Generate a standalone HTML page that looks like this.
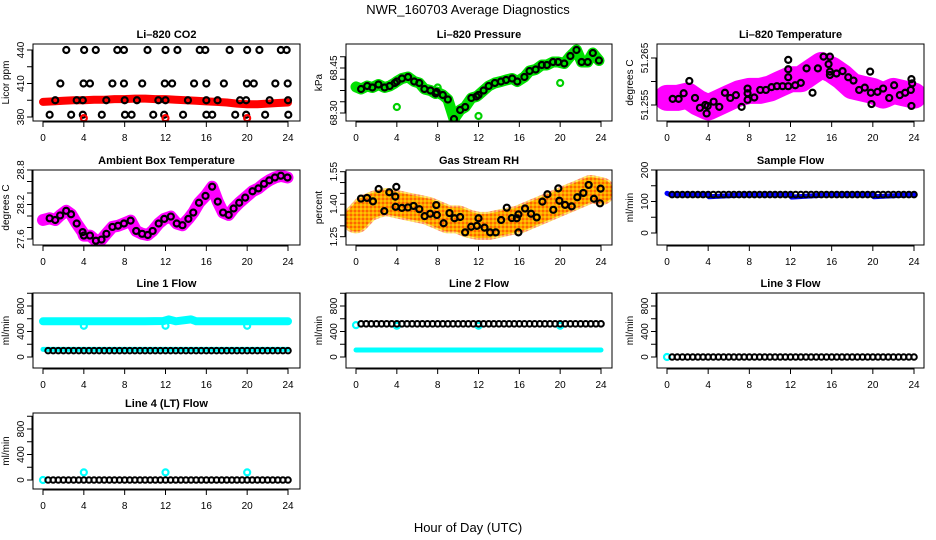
<!DOCTYPE html>
<html><head><meta charset="utf-8"><style>
body{margin:0;background:#fff;}
svg{display:block;font-family:"Liberation Sans",Arial,sans-serif;}
</style></head><body>
<svg id="chart" width="936" height="540" viewBox="0 0 936 540">
<defs id="defs">
<pattern id="rhpat" width="4" height="4" patternUnits="userSpaceOnUse"><rect width="4" height="4" fill="#ffa000"/><rect width="2" height="2" fill="#ffe000"/><rect x="2" y="2" width="2" height="2" fill="#ff4000"/></pattern>
</defs>
<rect width="936" height="540" fill="#fff"/>
<text x="468" y="14" font-size="13" text-anchor="middle">NWR_160703  Average Diagnostics</text>
<text x="468" y="532" font-size="13" text-anchor="middle">Hour of Day (UTC)</text>
</svg>
<script>
// ---- data ----
const xTicks = [0,4,8,12,16,20,24];
const xTickLabels = ['0','4','8','12','16','20','24'];

const co2BandHours = [0,1,2,3,4,5,6,7,8,9,10,11,12,13,14,15,16,17,18,19,20,21,22,23,24];
const co2BandVals = [393.5,394,394.5,395,395,395.5,395.5,396,396,396.5,396.5,396,396,395.5,395,394.5,394,393.5,393,392,391.5,391.5,392,392.5,393];
const co2BlackHours = [2.28,4.03,5.17,7.28,7.93,10.24,12.0,13.17,15.35,15.9,18.28,20.0,21.2,23.3,23.87,
 1.7,3.97,4.6,6.8,7.93,9.72,11.93,12.65,14.8,16.0,17.72,19.97,20.65,22.76,23.97,
 1.2,3.3,3.9,6.2,8.0,9.2,11.3,12.0,14.2,16.0,17.1,19.3,19.9,22.2,24,
 0.65,2.76,3.9,5.76,8.03,8.68,10.8,11.87,13.72,16.0,16.58,18.83,19.9,21.76,24.03];
const co2BlackVals = [440,440,440,440,440,440,440,440,440,440,440,440,440,440,440,
 410,410,410,410,410,410,410,410,410,410,410,410,410,410,410,
 395,395,395,395,395,395,395,395,395,395,395,395,395,395,395,
 382,382,382,382,382,382,382,382,382,382,382,382,382,382,382];
const co2RedHours = [4,12,20];
const co2RedVals = [379,379,379];

const presHours = [0,0.5,1.1,1.6,2.2,2.8,3.3,3.8,4.0,4.5,5.1,5.7,6.2,6.7,7.3,7.8,7.9,8.5,9.0,9.6,10.2,10.7,11.3,11.8,12.0,12.5,13.0,13.6,14.2,14.7,15.3,15.8,16.5,17.0,17.6,18.2,18.7,19.3,19.8,20.4,21.0,21.6,22.1,22.7,23.2,23.8];
const presVals = [68.387,68.38,68.39,68.385,68.395,68.385,68.39,68.40,68.405,68.415,68.42,68.405,68.40,68.38,68.375,68.365,68.37,68.36,68.345,68.28,68.31,68.32,68.35,68.355,68.36,68.375,68.39,68.40,68.405,68.41,68.415,68.405,68.42,68.44,68.445,68.46,68.46,68.47,68.47,68.465,68.49,68.51,68.47,68.47,68.50,68.475];
const presOutHours = [4,12,20,8];
const presOutVals = [68.32,68.29,68.40,68.385];

const tempBandHours = [0,1,2,3,4,5,6,7,8,9,10,11,12,13,14,15,16,17,18,19,20,21,22,23,24];
const tempBandVals = [51.2565,51.2565,51.257,51.2555,51.2545,51.2555,51.2565,51.2575,51.258,51.258,51.2585,51.2595,51.2605,51.2605,51.262,51.2635,51.2625,51.261,51.259,51.2585,51.258,51.257,51.258,51.2575,51.257];
const tempHours = [0.55,1.13,1.62,2.17,2.72,3.2,3.72,3.85,3.95,4.53,5.08,5.63,6.15,6.7,7.25,7.83,7.83,7.83,8.48,9.06,9.61,10.16,10.68,11.23,11.78,11.78,11.78,11.78,12.46,13.0,13.56,14.14,14.66,15.21,15.7,15.83,15.83,15.83,16.47,17.06,17.61,18.12,18.67,19.22,19.74,19.81,19.87,20.45,21.0,21.59,22.07,22.62,23.14,23.69,23.75,23.82,23.75];
const tempVals = [51.2563,51.2563,51.2575,51.2601,51.2565,51.2544,51.255,51.2532,51.2548,51.2557,51.2546,51.2576,51.2565,51.2571,51.2546,51.2585,51.2575,51.2561,51.2566,51.2582,51.2582,51.2588,51.259,51.259,51.259,51.2609,51.2626,51.2646,51.2592,51.2597,51.2628,51.2576,51.2628,51.2653,51.2637,51.2653,51.2614,51.2621,51.2617,51.2622,51.2609,51.2602,51.2582,51.2587,51.2621,51.2576,51.2552,51.2578,51.2585,51.2565,51.2592,51.2571,51.2576,51.2582,51.2605,51.2596,51.2548];

const ambHours = [0,0.65,1.2,1.68,2.27,2.75,3.3,3.88,4.0,4.6,5.18,5.73,6.21,6.8,7.35,7.93,8.58,9.13,9.71,10.26,10.74,11.33,11.88,12.52,13.1,13.66,14.24,14.72,15.28,15.92,16.57,17.12,17.64,18.19,18.67,19.22,19.81,20.52,21.1,21.65,22.17,22.72,23.3,23.95];
const ambVals = [27.93,27.96,27.93,28.01,28.09,28.03,27.87,27.72,27.66,27.66,27.57,27.59,27.69,27.81,27.83,27.87,27.92,27.74,27.69,27.67,27.74,27.87,27.95,27.99,27.87,27.84,27.95,28.06,28.23,28.35,28.51,28.25,28.06,28.02,28.13,28.23,28.32,28.43,28.48,28.56,28.62,28.67,28.70,28.67];

const rhBandHours = [0,1,2,3,4,5,6,7,8,9,10,11,12,13,14,15,16,17,18,19,20,21,22,23,24];
const rhBandVals = [1.33,1.38,1.40,1.41,1.40,1.39,1.38,1.37,1.35,1.33,1.33,1.31,1.30,1.30,1.31,1.32,1.33,1.35,1.37,1.39,1.41,1.43,1.45,1.47,1.46];
const rhHours = [0.49,1.08,1.66,2.22,2.77,3.26,3.85,3.95,3.88,4.5,5.09,5.64,6.2,6.72,7.27,7.86,7.92,8.58,9.16,9.65,10.2,10.69,11.28,11.84,12.0,12.59,13.14,13.69,14.22,14.77,15.26,15.75,15.91,15.91,16.56,17.15,17.7,18.26,18.75,19.33,19.82,19.92,20.48,21.13,21.68,22.27,22.79,23.31,23.96,23.9];
const rhVals = [1.426,1.429,1.413,1.47,1.368,1.455,1.435,1.48,1.388,1.383,1.385,1.392,1.377,1.345,1.356,1.396,1.35,1.312,1.359,1.335,1.341,1.27,1.296,1.30,1.335,1.292,1.27,1.27,1.327,1.384,1.336,1.335,1.353,1.27,1.38,1.356,1.339,1.412,1.446,1.374,1.473,1.416,1.397,1.39,1.432,1.452,1.489,1.425,1.472,1.404];

const flowHours = [0.5,1,1.5,2,2.5,3,3.5,4,4.5,5,5.5,6,6.5,7,7.5,8,8.5,9,9.5,10,10.5,11,11.5,12,12.5,13,13.5,14,14.5,15,15.5,16,16.5,17,17.5,18,18.5,19,19.5,20,20.5,21,21.5,22,22.5,23,23.5,24];
const sampleBlack = [122,122,122,122,122,122,122,122,122,122,122,122,122,122,122,122,122,122,122,122,122,122,122,122,122,122,122,122,122,122,122,122,122,122,122,122,122,122,122,122,122,122,122,122,122,122,122,122];
const sampleBlueHours = [0,0.3,4,4.1,8,12,12.1,16,20,20.1,24];
const sampleBlueVals = [126,122,122,115,122,122,114,122,122,115,122];
const line1Black = [100,100,100,100,100,100,100,100,100,100,100,100,100,100,100,100,100,100,100,100,100,100,100,100,100,100,100,100,100,100,100,100,100,100,100,100,100,100,100,100,100,100,100,100,100,100,100,100];
const line1CyanHours = [0,2,4,6,8,10,11.8,12.3,13,14.5,15,16,18,20,22,24];
const line1CyanVals = [560,560,560,560,560,560,565,590,560,590,560,560,560,560,560,560];
const line1CyanLowHours = [0,24];
const line1CyanLowVals = [120,120];
const line1DipHours = [4,12,20];
const line1DipVals = [490,490,490];
const line2Black = [520,520,520,520,520,520,520,520,520,520,520,520,520,520,520,520,520,520,520,520,520,520,520,520,520,520,520,520,520,520,520,520,520,520,520,520,520,520,520,520,520,520,520,520,520,520,520,520];
const line2CyanHours = [0,24];
const line2CyanVals = [110,110];
const line2CyanPtHours = [0,4,12,20];
const line2CyanPtVals = [500,490,490,490];
const line3Black = [0,0,0,0,0,0,0,0,0,0,0,0,0,0,0,0,0,0,0,0,0,0,0,0,0,0,0,0,0,0,0,0,0,0,0,0,0,0,0,0,0,0,0,0,0,0,0,0];
const line3CyanHours = [0];
const line3CyanVals = [0];
const line4Black = [0,0,0,0,0,0,0,0,0,0,0,0,0,0,0,0,0,0,0,0,0,0,0,0,0,0,0,0,0,0,0,0,0,0,0,0,0,0,0,0,0,0,0,0,0,0,0,0];
const line4CyanHours = [0,4,12,20];
const line4CyanVals = [0,120,120,120];

// ---- layout ----
const NS = 'http://www.w3.org/2000/svg';
const svg = document.getElementById('chart');
const defs = document.getElementById('defs');
const boxL=[33,346,657], boxR=[300,612,924], xa=[43,356,667], xb=[288,601,914];
const boxT=[44,170,293,413], boxB=[121,245,368,489];

function mk(tag, attrs, parent){ const e=document.createElementNS(NS,tag); for(const k in attrs) e.setAttribute(k,attrs[k]); parent.appendChild(e); return e; }

let clipN = 0;
function panel(p){
  const g = mk('g',{},svg);
  
  
  const c=p.col, r=p.row;
  const X = h => xa[c] + h*(xb[c]-xa[c])/24;
  const Y = v => p.yp0 + (v-p.yv0)*(p.yp1-p.yp0)/(p.yv1-p.yv0);
  const t = mk('text',{x:(boxL[c]+boxR[c])/2, y:boxT[r]-6, 'font-size':11, 'font-weight':'bold','text-anchor':'middle'},g);
  t.textContent = p.title;
  
  
  const cid = 'clip' + (clipN++);
  const cp = mk('clipPath',{id:cid},defs);
  mk('rect',{x:boxL[c],y:boxT[r],width:boxR[c]-boxL[c],height:boxB[r]-boxT[r]},cp);
  const dg = mk('g',{'clip-path':`url(#${cid})`},g);
  
  
  p.draw(dg, X, Y);
  const b = mk('rect',{x:boxL[c],y:boxT[r],width:boxR[c]-boxL[c],height:boxB[r]-boxT[r],fill:'none',stroke:'#000','stroke-width':1},g);
  
  
  const xg = mk('g',{},g);
  
  
  mk('line',{x1:X(xTicks[0]),x2:X(xTicks[xTicks.length-1]),y1:boxB[r]+1,y2:boxB[r]+1,stroke:'#000'},xg);
  xTicks.forEach((v,i)=>{
    const tk = mk('line',{x1:X(v),x2:X(v),y1:boxB[r],y2:boxB[r]+6,stroke:'#000'},xg);
    
    
    const tl = mk('text',{x:X(v),y:boxB[r]+20,'font-size':10,'text-anchor':'middle'},xg);
    tl.textContent = xTickLabels[i];
    
    
  });
  const yg = mk('g',{},g);
  
  
  mk('line',{x1:boxL[c]-1,x2:boxL[c]-1,y1:Y(p.yTicks[0]),y2:Y(p.yTicks[p.yTicks.length-1]),stroke:'#000'},yg);
  p.yTicks.forEach((v,i)=>{
    const tk = mk('line',{x1:boxL[c]-6,x2:boxL[c],y1:Y(v),y2:Y(v),stroke:'#000'},yg);
    
    
    if(p.yLabels[i]){
      const tl = mk('text',{transform:`translate(${boxL[c]-9},${Y(v)}) rotate(-90)`,'font-size':10,'text-anchor':'middle'},yg);
      tl.textContent = p.yLabels[i];
      
      
    }
  });
  const yt = mk('text',{transform:`translate(${boxL[c]-24},${(boxT[r]+boxB[r])/2}) rotate(-90)`,'font-size':10,'text-anchor':'middle'},yg);
  yt.textContent = p.ytitle;
  
  
}

function band(g, X, Y, hs, vs, color, w, name, op){
  const pts = hs.map((h,i)=>X(h).toFixed(1)+','+Y(vs[i]).toFixed(1)).join(' ');
  const e = mk('polyline',{points:pts,fill:'none',stroke:color,'stroke-width':w,'stroke-linecap':'round','stroke-linejoin':'round','stroke-opacity':op||1},g);
  
  
}
function dots(g, X, Y, hs, vs, color, name, r, sw){
  const gg = mk('g',{},g);
  
  
  hs.forEach((h,i)=>{
    const e = mk('circle',{cx:X(h),cy:Y(vs[i]),r:r||3,fill:'none',stroke:color,'stroke-width':sw||2.2},gg);
    
    
  });
}

const flowTicks=[0,200,400,600,800,1000], flowLabels=['0','','400','','800',''];

panel({name:'li820-co2-panel',col:0,row:0,title:'Li\u2013820 CO2',ytitle:'Licor ppm',yv0:380,yp0:117,yv1:440,yp1:50,
  yTicks:[380,395,410,425,440],yLabels:['380','','410','','440'],
  draw:(g,X,Y)=>{ band(g,X,Y,co2BandHours,co2BandVals,'#ff0000',8,'co2-band');
    dots(g,X,Y,co2BlackHours,co2BlackVals,'#000','co2-black-points');
    dots(g,X,Y,co2RedHours,co2RedVals,'#ff0000','co2-red-points'); }});

panel({name:'li820-pressure-panel',col:1,row:0,title:'Li\u2013820 Pressure',ytitle:'kPa',yv0:68.30,yp0:113,yv1:68.45,yp1:68,
  yTicks:[68.30,68.3375,68.375,68.4125,68.45,68.4875],yLabels:['68.30','','','','68.45',''],
  draw:(g,X,Y)=>{ band(g,X,Y,presHours,presVals,'#00e000',11,'pressure-band');
    dots(g,X,Y,presOutHours,presOutVals,'#00d000','pressure-green-points');
    dots(g,X,Y,presHours.slice(1),presVals.slice(1),'#000','pressure-black-points'); }});

panel({name:'li820-temperature-panel',col:2,row:0,title:'Li\u2013820 Temperature',ytitle:'degrees C',yv0:51.255,yp0:105,yv1:51.265,yp1:58,
  yTicks:[51.255,51.26,51.265],yLabels:['51.255','','51.265'],
  draw:(g,X,Y)=>{ band(g,X,Y,tempBandHours,tempBandVals,'#ff00ff',26,'temperature-band');
    dots(g,X,Y,tempHours,tempVals,'#000','temperature-black-points'); }});

panel({name:'ambient-box-temperature-panel',col:0,row:1,title:'Ambient Box Temperature',ytitle:'degrees C',yv0:27.6,yp0:239,yv1:28.8,yp1:170,
  yTicks:[27.6,27.8,28.0,28.2,28.4,28.6,28.8],yLabels:['27.6','','','28.2','','','28.8'],
  draw:(g,X,Y)=>{ band(g,X,Y,ambHours,ambVals,'#ff00ff',12,'ambient-band');
    dots(g,X,Y,ambHours.slice(1),ambVals.slice(1),'#000','ambient-black-points'); }});

panel({name:'gas-stream-rh-panel',col:1,row:1,title:'Gas Stream RH',ytitle:'percent',yv0:1.25,yp0:236.7,yv1:1.55,yp1:171.7,
  yTicks:[1.25,1.30,1.35,1.40,1.45,1.50,1.55],yLabels:['1.25','','','1.40','','','1.55'],
  draw:(g,X,Y)=>{ band(g,X,Y,rhBandHours,rhBandVals,'#ff9a00',24,'rh-band');
    band(g,X,Y,rhBandHours,rhBandVals,'url(#rhpat)',28,'rh-band-speckle',0.6);
    dots(g,X,Y,rhHours,rhVals,'#000','rh-black-points'); }});

panel({name:'sample-flow-panel',col:2,row:1,title:'Sample Flow',ytitle:'ml/min',yv0:0,yp0:233,yv1:200,yp1:170,
  yTicks:[0,50,100,150,200],yLabels:['0','','100','','200'],
  draw:(g,X,Y)=>{ band(g,X,Y,sampleBlueHours,sampleBlueVals,'#0000ff',5,'sample-blue-band');
    dots(g,X,Y,flowHours,sampleBlack,'#000','sample-black-points',2.8,2); }});

panel({name:'line1-flow-panel',col:0,row:2,title:'Line 1 Flow',ytitle:'ml/min',yv0:0,yp0:357,yv1:800,yp1:306,
  yTicks:flowTicks,yLabels:flowLabels,
  draw:(g,X,Y)=>{ band(g,X,Y,line1CyanHours,line1CyanVals,'#00ffff',8,'line1-cyan-band');
    dots(g,X,Y,line1DipHours,line1DipVals,'#00ffff','line1-cyan-dips');
    band(g,X,Y,line1CyanLowHours,line1CyanLowVals,'#00ffff',5,'line1-cyan-low');
    dots(g,X,Y,flowHours,line1Black,'#000','line1-black-points',2.8,2); }});

panel({name:'line2-flow-panel',col:1,row:2,title:'Line 2 Flow',ytitle:'ml/min',yv0:0,yp0:357,yv1:800,yp1:306,
  yTicks:flowTicks,yLabels:flowLabels,
  draw:(g,X,Y)=>{ band(g,X,Y,line2CyanHours,line2CyanVals,'#00ffff',5,'line2-cyan-band');
    dots(g,X,Y,line2CyanPtHours,line2CyanPtVals,'#00ffff','line2-cyan-points');
    dots(g,X,Y,flowHours,line2Black,'#000','line2-black-points',2.8,2); }});

panel({name:'line3-flow-panel',col:2,row:2,title:'Line 3 Flow',ytitle:'ml/min',yv0:0,yp0:357,yv1:800,yp1:306,
  yTicks:flowTicks,yLabels:flowLabels,
  draw:(g,X,Y)=>{ dots(g,X,Y,line3CyanHours,line3CyanVals,'#00ffff','line3-cyan-points');
    dots(g,X,Y,flowHours,line3Black,'#000','line3-black-points',2.8,2); }});

panel({name:'line4-flow-panel',col:0,row:3,title:'Line 4 (LT) Flow',ytitle:'ml/min',yv0:0,yp0:480,yv1:800,yp1:429,
  yTicks:flowTicks,yLabels:flowLabels,
  draw:(g,X,Y)=>{ dots(g,X,Y,line4CyanHours,line4CyanVals,'#00ffff','line4-cyan-points');
    dots(g,X,Y,flowHours,line4Black,'#000','line4-black-points',2.8,2); }});
</script>
</body></html>
